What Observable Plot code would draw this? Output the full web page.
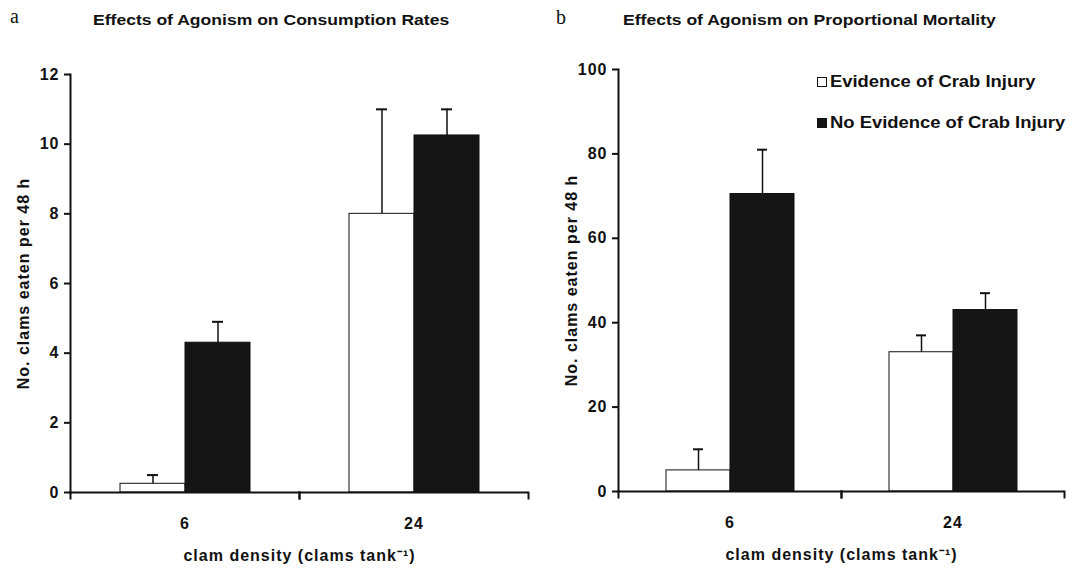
<!DOCTYPE html>
<html>
<head>
<meta charset="utf-8">
<script src="https://cdn.jsdelivr.net/npm/d3@7"></script>
<script src="https://cdn.jsdelivr.net/npm/@observablehq/plot@0.6"></script>
<style>
  html, body { margin: 0; padding: 0; background: #fff; }
  #wrap { position: relative; width: 1070px; height: 569px; overflow: hidden; color: #111;
          font-family: "Liberation Sans", Arial, sans-serif; }
  .panel { position: absolute; top: 0; }
  .letter { position: absolute; font-family: "Liberation Serif", serif; font-size: 20px; line-height: 20px; }
  .title { position: absolute; font-weight: bold; font-size: 15px; line-height: 15px; white-space: nowrap;
           transform-origin: 0 0; transform: scaleX(1.17); }
  .leg { position: absolute; font-weight: bold; font-size: 16px; line-height: 16px; white-space: nowrap;
         transform-origin: 0 0; transform: scaleX(1.15); }
  .sw { position: absolute; width: 8px; height: 8px; border: 1px solid #111; }
</style>
</head>
<body>
<div id="wrap"></div>
<script>
// ---- data ----
const densities = ["6", "24"];
const series = ["Evidence of Crab Injury", "No Evidence of Crab Injury"];

const consumptionEvidence = [0.25, 8.0];
const consumptionEvidenceErr = [0.25, 3.0];
const consumptionNoEvidence = [4.3, 10.25];
const consumptionNoEvidenceErr = [0.6, 0.75];

const mortalityEvidence = [5, 33];
const mortalityEvidenceErr = [5, 4];
const mortalityNoEvidence = [70.5, 43];
const mortalityNoEvidenceErr = [10.5, 4];

const yTicksA = [0, 2, 4, 6, 8, 10, 12];
const yTicksB = [0, 20, 40, 60, 80, 100];

const titleA = "Effects of Agonism on Consumption Rates";
const titleB = "Effects of Agonism on Proportional Mortality";
const yLabel = "No. clams eaten per 48 h";
const xLabel = "clam density (clams tank\u207B\u00B9)";
const fillColors = ["#ffffff", "#151515"];

function buildRows(v1, e1, v2, e2) {
  const rows = [];
  densities.forEach((d, i) => {
    rows.push({density: d, series: series[0], value: v1[i], err: e1[i]});
    rows.push({density: d, series: series[1], value: v2[i], err: e2[i]});
  });
  return rows;
}

function chart({rows, yDomain, yTicks, width, height, marginLeft, marginRight, marginTop, marginBottom, paddingOuter}) {
  const innerH = height - marginTop - marginBottom;
  return Plot.plot({
    width, height, marginLeft, marginRight, marginTop, marginBottom,
    style: {fontFamily: "'Liberation Sans', Arial, sans-serif", fontSize: "16px", fontWeight: "bold",
            color: "#111", background: "transparent", overflow: "visible", letterSpacing: "1px"},
    fx: {domain: densities, padding: 0, label: null},
    x: {domain: series, paddingInner: 0, paddingOuter, axis: null},
    y: {domain: yDomain, label: null},
    color: {domain: series, range: fillColors},
    marks: [
      Plot.barY(rows, {fx: "density", x: "series", y: "value", fill: "series", stroke: "#111", strokeWidth: 1}),
      Plot.ruleX(rows, {fx: "density", x: "series", y1: "value", y2: d => d.value + d.err, stroke: "#111", strokeWidth: 1.5}),
      Plot.tickY(rows, {fx: "density", x: "series", y: d => d.value + d.err, insetLeft: 27, insetRight: 27, stroke: "#111", strokeWidth: 2}),
      Plot.ruleY([0], {stroke: "#111", strokeWidth: 2}),
      Plot.frame({anchor: "left", facetAnchor: "left", stroke: "#111", strokeWidth: 2}),
      Plot.frame({anchor: "left", insetTop: innerH, insetBottom: -6, stroke: "#111", strokeWidth: 2}),
      Plot.frame({anchor: "right", insetTop: innerH, insetBottom: -6, stroke: "#111", strokeWidth: 2}),
      Plot.axisY({ticks: yTicks, tickSize: 6, tickPadding: 5, strokeWidth: 2, label: yLabel,
                  labelArrow: false, labelAnchor: "center", labelOffset: 53}),
      Plot.axisFx({anchor: "bottom", tickSize: 0, tickPadding: 25, label: xLabel, labelArrow: false,
                   labelAnchor: "center", labelOffset: 68})
    ]
  });
}

const wrap = document.getElementById("wrap");

const pa = chart({
  rows: buildRows(consumptionEvidence, consumptionEvidenceErr, consumptionNoEvidence, consumptionNoEvidenceErr),
  yDomain: [0, 12], yTicks: yTicksA,
  width: 540, height: 569, marginLeft: 69, marginRight: 12, marginTop: 74, marginBottom: 77, paddingOuter: 0.75
});
const da = document.createElement("div"); da.className = "panel"; da.style.left = "0px"; da.appendChild(pa);
wrap.appendChild(da);

const pb = chart({
  rows: buildRows(mortalityEvidence, mortalityEvidenceErr, mortalityNoEvidence, mortalityNoEvidenceErr),
  yDomain: [0, 100], yTicks: yTicksB,
  width: 530, height: 569, marginLeft: 77, marginRight: 6, marginTop: 69, marginBottom: 78, paddingOuter: 0.73
});
const db = document.createElement("div"); db.className = "panel"; db.style.left = "540px"; db.appendChild(pb);
wrap.appendChild(db);

function addDiv(cls, text, left, top) {
  const el = document.createElement("div");
  el.className = cls; el.textContent = text;
  el.style.left = left + "px"; el.style.top = top + "px";
  wrap.appendChild(el);
  return el;
}
addDiv("letter", "a", 10, 6);
addDiv("letter", "b", 556, 7);
addDiv("title", titleA, 93, 12);
addDiv("title", titleB, 623, 12);

// legend
series.forEach((s, i) => {
  const sw = document.createElement("div");
  sw.className = "sw";
  sw.style.left = "817px";
  sw.style.top = (77 + i * 41) + "px";
  sw.style.background = fillColors[i];
  wrap.appendChild(sw);
  addDiv("leg", s, 830, 74 + i * 41);
});
</script>
</body>
</html>
